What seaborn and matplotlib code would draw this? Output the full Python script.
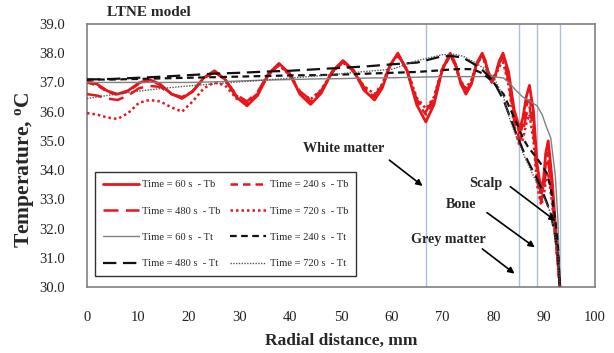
import numpy as np
import pandas as pd
import matplotlib
matplotlib.use("Agg")
import matplotlib.pyplot as plt
import seaborn as sns

# ---------------- data ----------------
x_tb = [0, 2, 4, 6.0, 8.1, 10.2, 12.3, 14.4, 16.6, 18.7, 20.8, 23.0, 25.1,
        27.2, 29.4, 31.5, 33.6, 35.7, 37.8, 39.9, 41.9, 44.0, 46.1, 48.3, 50.4,
        52.5, 54.5, 56.6, 58.1, 59.7, 61.2, 63.0, 64.9, 66.7, 68.3, 69.9, 71.5,
        72.5, 73.6, 74.6, 75.7, 76.7, 77.8, 78.4, 79.1, 79.7, 80.4, 81.2, 81.9,
        83.0, 84.1, 85.2, 85.8, 86.5, 87.1, 87.9, 88.6, 89.4, 89.9, 90.3, 90.8,
        91.6, 92.3, 93.1]

tb_60 = [37.05, 36.94, 36.71, 36.60, 36.72, 36.98, 37.10, 36.94, 36.61, 36.45, 36.69, 37.16, 37.40,
         37.10, 36.50, 36.20, 36.56, 37.29, 37.65, 37.30, 36.60, 36.25, 36.63, 37.38, 37.75,
         37.41, 36.74, 36.40, 36.80, 37.60, 38.00, 37.41, 36.24, 35.65, 36.24, 37.41, 38.00,
         37.65, 36.95, 36.60, 36.95, 37.65, 38.00, 37.75, 37.25, 37.00, 37.25, 37.75, 38.00,
         37.35, 36.05, 35.40, 35.78, 36.52, 36.90, 36.00, 34.20, 33.30, 33.72, 34.57, 35.00,
         33.60, 31.90, 30.00]

tb_240 = [37.00, 36.90, 36.68, 36.57, 36.70, 36.95, 37.08, 36.92, 36.62, 36.48, 36.70, 37.14, 37.36,
          37.08, 36.55, 36.30, 36.62, 37.27, 37.60, 37.28, 36.66, 36.35, 36.68, 37.35, 37.70,
          37.38, 36.80, 36.50, 36.86, 37.58, 37.92, 37.40, 36.35, 35.90, 36.38, 37.40, 37.92,
          37.60, 36.98, 36.70, 37.00, 37.60, 37.92, 37.70, 37.28, 37.08, 37.30, 37.72, 37.90,
          37.20, 35.90, 35.20, 35.55, 36.20, 36.50, 35.60, 33.90, 33.10, 33.50, 34.20, 34.60,
          33.20, 31.70, 30.00]

tb_480 = [36.60, 36.55, 36.45, 36.40, 36.55, 36.80, 36.88, 36.85, 36.60, 36.50, 36.70, 37.15, 37.38,
          37.10, 36.58, 36.35, 36.68, 37.30, 37.62, 37.30, 36.70, 36.40, 36.72, 37.38, 37.72,
          37.40, 36.85, 36.55, 36.90, 37.62, 37.95, 37.42, 36.42, 36.00, 36.45, 37.45, 37.95,
          37.62, 37.02, 36.75, 37.05, 37.62, 37.95, 37.68, 37.30, 37.10, 37.28, 37.68, 37.85,
          37.05, 35.70, 35.00, 35.30, 35.90, 36.20, 35.30, 33.70, 32.90, 33.30, 33.90, 34.30,
          33.00, 31.60, 30.00]

tb_720 = [35.95, 35.90, 35.80, 35.75, 35.95, 36.30, 36.40, 36.35, 36.15, 36.00, 36.35, 36.80, 37.00,
          36.90, 36.45, 36.28, 36.62, 37.25, 37.58, 37.25, 36.68, 36.42, 36.75, 37.36, 37.68,
          37.36, 36.88, 36.60, 36.95, 37.62, 37.95, 37.45, 36.48, 36.10, 36.50, 37.48, 37.95,
          37.62, 37.05, 36.80, 37.10, 37.62, 37.92, 37.62, 37.25, 37.05, 37.20, 37.55, 37.70,
          36.90, 35.50, 34.80, 35.05, 35.60, 35.90, 35.00, 33.50, 32.80, 33.10, 33.60, 33.90,
          32.80, 31.50, 30.00]

x_tt = [0, 5, 10, 15, 20, 25, 30, 35, 40, 45, 50, 55, 60, 65, 70, 72, 74, 76, 78,
        80, 82, 83.3, 84.6, 85.8, 86.8, 88.6, 89.6, 90.5, 91.3, 92.2, 92.7, 93.1]

tt_60 = [37.00, 37.00, 37.00, 37.00, 37.00, 37.02, 37.05, 37.08, 37.10, 37.12, 37.13, 37.15, 37.16,
         37.18, 37.20, 37.20, 37.20, 37.20, 37.20, 37.20, 37.15, 36.95, 36.70, 36.50, 36.40,
         36.20, 35.90, 35.45, 35.10, 33.80, 32.30, 30.00]

tt_240 = [37.10, 37.10, 37.12, 37.14, 37.16, 37.18, 37.20, 37.22, 37.24, 37.25, 37.27, 37.30, 37.33,
          37.36, 37.42, 37.45, 37.46, 37.45, 37.30, 37.00, 36.60, 36.10, 35.60, 35.10, 34.80,
          34.40, 34.15, 33.90, 33.40, 32.30, 31.40, 30.00]

tt_480 = [37.10, 37.12, 37.16, 37.20, 37.25, 37.30, 37.33, 37.37, 37.40, 37.45, 37.50, 37.55, 37.62,
          37.68, 37.90, 37.90, 37.85, 37.65, 37.40, 37.05, 36.40, 35.80, 35.20, 34.70, 34.30,
          33.70, 33.30, 32.90, 32.50, 31.70, 31.10, 30.00]

tt_720 = [36.45, 36.58, 36.70, 36.80, 36.88, 36.95, 37.02, 37.08, 37.15, 37.22, 37.30, 37.38, 37.45,
          37.75, 37.95, 37.97, 37.90, 37.72, 37.50, 37.20, 36.50, 35.70, 35.10, 34.60, 34.20,
          33.55, 33.20, 32.85, 32.50, 31.70, 31.10, 30.00]

layer_bounds = [66.7, 85.0, 88.6, 93.1]
y_ticks = [30.0, 31.0, 32.0, 33.0, 34.0, 35.0, 36.0, 37.0, 38.0, 39.0]
x_ticks = [0, 10, 20, 30, 40, 50, 60, 70, 80, 90, 100]

# label, x, y, dashes, colour, width
series = [
    ("Time = 60 s  - Tb", x_tb, tb_60, "", "#e8161b", 2.0),
    ("Time = 240 s  - Tb", x_tb, tb_240, (3, 2), "#e8161b", 1.8),
    ("Time = 480 s  - Tb", x_tb, tb_480, (6, 3), "#e8161b", 1.8),
    ("Time = 720 s  - Tb", x_tb, tb_720, (1, 1.2), "#e8161b", 1.8),
    ("Time = 60 s  - Tt", x_tt, tt_60, "", "#808080", 1.0),
    ("Time = 240 s  - Tt", x_tt, tt_240, (3, 2), "#111111", 1.6),
    ("Time = 480 s  - Tt", x_tt, tt_480, (6, 3), "#111111", 1.6),
    ("Time = 720 s  - Tt", x_tt, tt_720, (1, 1), "#555555", 1.0),
]

# ---------------- figure ----------------
sns.set_style("white")
plt.rcParams["font.family"] = ["Liberation Serif", "DejaVu Serif"]
plt.rcParams["mathtext.fontset"] = "custom"
plt.rcParams["mathtext.bf"] = "Liberation Serif:bold"
plt.rcParams["mathtext.rm"] = "Liberation Serif"

fig = plt.figure(figsize=(6.14, 3.53), dpi=100)
ax = fig.add_axes([0.1417, 0.187, 0.8273, 0.745])

for xb in layer_bounds:
    ax.axvline(xb, color="#a9c0d8", lw=1.0, zorder=1)

for label, xs, ys, dash, col, lw in series:
    df = pd.DataFrame({"x": xs, "y": ys})
    sns.lineplot(data=df, x="x", y="y", ax=ax, color=col, lw=lw, label=label,
                 dashes=False, sort=False, zorder=3)
    ax.lines[-1].set_solid_joinstyle("round")
    if dash:
        ax.lines[-1].set_dashes(dash)

ax.set_xlim(0, 100)
ax.set_ylim(30, 39)
ax.set_xticks(x_ticks)
ax.set_yticks(y_ticks)
ax.set_yticklabels([f"{v:.1f}" for v in y_ticks])
ax.tick_params(axis="both", labelsize=10.5, colors="#555555", labelcolor="#222222", width=1)
ax.tick_params(axis="x", direction="inout", length=8, pad=13)
ax.tick_params(axis="y", direction="out", length=5, pad=11)
for sp in ax.spines.values():
    sp.set_color("#808080")
    sp.set_linewidth(1.2)

ax.set_xlabel("Radial distance, mm", fontsize=12.5, fontweight="bold", labelpad=7)
ax.set_ylabel(r"Temperature, $\mathbf{^{o}}$C", fontsize=15.5, fontweight="bold")
ax.yaxis.set_label_coords(-0.10, 0.445)
fig.text(107 / 614, 1 - 13 / 353, "LTNE model", fontsize=11, fontweight="bold", va="center")

# legend: column-major order as in the reference
handles, labels = ax.get_legend_handles_labels()
order = [0, 2, 4, 6, 1, 3, 5, 7]
leg = ax.legend([handles[i] for i in order], [labels[i] for i in order],
                ncol=2, loc="upper left", bbox_to_anchor=(0.0157, 0.437),
                fontsize=7.6, handlelength=3.4, handletextpad=0.35, labelspacing=1.6,
                columnspacing=0.9, borderpad=0.75, borderaxespad=0, frameon=True,
                fancybox=False, edgecolor="#333333", framealpha=1)
leg.get_frame().set_linewidth(1.0)

arrow = dict(arrowstyle="-|>", color="black", lw=1.2, mutation_scale=9)
notes = [
    ("White matter", (50.6, 34.75), (66.5, 33.4), (59.1, 34.4)),
    ("Scalp", (78.6, 33.55), (92.7, 32.2), (82.9, 33.49)),
    ("Bone", (73.7, 32.84), (88.6, 31.3), (78.3, 32.6)),
    ("Grey matter", (71.1, 31.64), (84.6, 30.4), (77.4, 31.36)),
]
for txt, tpos, head, tail in notes:
    ax.text(tpos[0], tpos[1], txt, fontsize=10.2, fontweight="bold", ha="center", va="center", zorder=5)
    ax.annotate("", xy=head, xytext=tail, arrowprops=arrow, zorder=5)

fig.savefig("out.png", dpi=100)
